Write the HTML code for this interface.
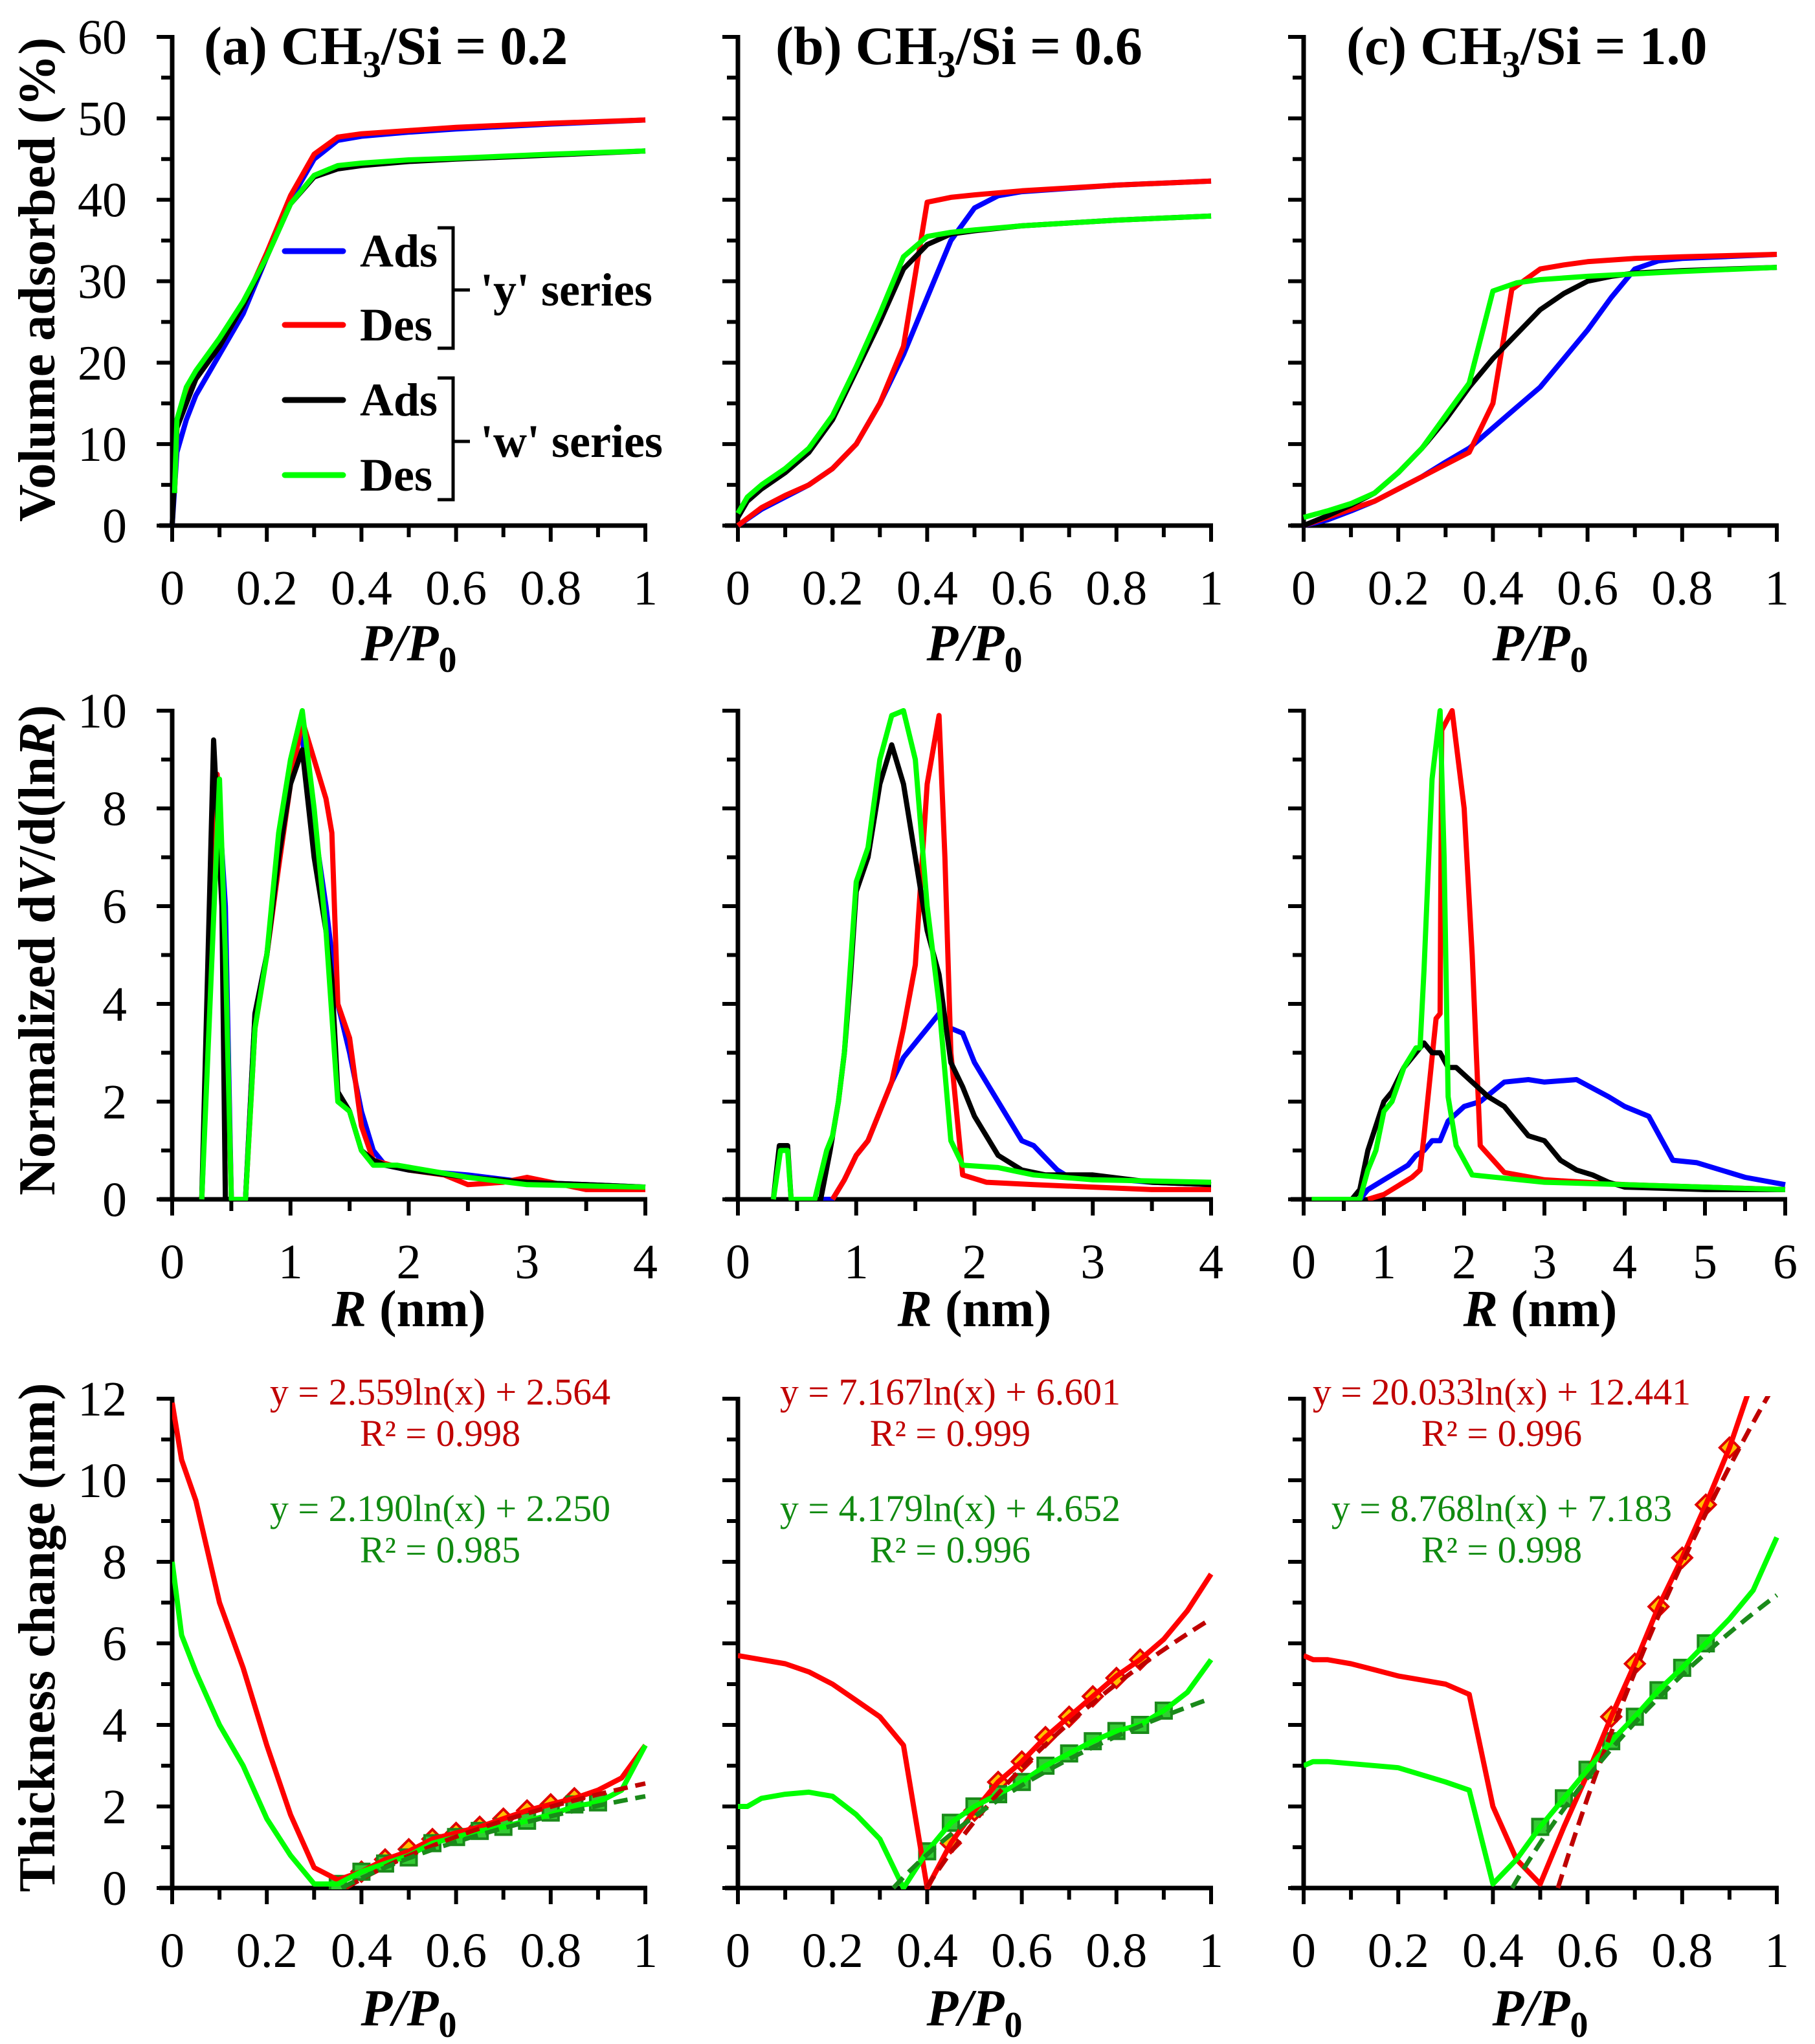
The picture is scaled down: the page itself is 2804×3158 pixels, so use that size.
<!DOCTYPE html>
<html><head><meta charset="utf-8"><style>
html,body{margin:0;padding:0;background:#fff}
svg{display:block}
svg text{font-family:"Liberation Serif","Times New Roman",serif !important}
</style></head><body>
<svg id="fig" xmlns="http://www.w3.org/2000/svg" width="2804" height="3158" viewBox="0 0 2804 3158" font-family="Liberation Serif, Times New Roman, serif"></svg>
<script>
// ---------- Row 1: isotherms (x = P/P0, y = volume %) ----------
const isoA_blueX=[0,0.01,0.03,0.05,0.1,0.15,0.2,0.25,0.3,0.35,0.4,0.5,0.6,0.8,1];
const isoA_blueY=[0,9,13,16,21,26,33,40,45,47.3,47.8,48.3,48.7,49.3,49.8];
const isoA_redX=[0.005,0.01,0.03,0.05,0.1,0.15,0.2,0.25,0.3,0.35,0.4,0.5,0.6,0.8,1];
const isoA_redY=[4,12,15.5,18,22,27,33.5,40.5,45.6,47.7,48.1,48.5,48.9,49.4,49.8];
const isoA_blackX=[0,0.01,0.03,0.05,0.1,0.15,0.2,0.25,0.3,0.35,0.4,0.5,0.6,0.8,1];
const isoA_blackY=[0,12,15,18,22,27,33,39.5,42.8,43.8,44.2,44.7,45,45.5,46];
const isoA_greenX=[0.005,0.01,0.03,0.05,0.1,0.15,0.2,0.25,0.3,0.35,0.4,0.5,0.6,0.8,1];
const isoA_greenY=[4,13,17,19,23,27.5,33,39.5,43,44.2,44.5,44.9,45.1,45.6,46];

const isoB_blueX=[0,0.05,0.1,0.15,0.2,0.25,0.3,0.35,0.4,0.45,0.5,0.55,0.6,0.8,1];
const isoB_blueY=[0,2,3.5,5,7,10,15,21,28,35,39,40.5,41,41.8,42.3];
const isoB_redX=[0,0.05,0.1,0.15,0.2,0.25,0.3,0.35,0.4,0.45,0.5,0.6,0.8,1];
const isoB_redY=[0,2.2,3.7,5,7,10,15,22,39.7,40.3,40.6,41.1,41.8,42.3];
const isoB_blackX=[0,0.02,0.05,0.1,0.15,0.2,0.25,0.3,0.35,0.4,0.45,0.5,0.6,0.8,1];
const isoB_blackY=[1,3,4.5,6.5,9,13,19,25,31.5,34.5,35.8,36.2,36.8,37.5,38];
const isoB_greenX=[0,0.02,0.05,0.1,0.15,0.2,0.25,0.3,0.35,0.4,0.45,0.5,0.6,0.8,1];
const isoB_greenY=[1.5,3.5,5,7,9.5,13.5,19.5,26,33,35.5,36,36.3,36.8,37.5,38];

const isoC_blueX=[0,0.05,0.1,0.15,0.2,0.25,0.3,0.35,0.4,0.45,0.5,0.55,0.6,0.65,0.7,0.75,0.8,1];
const isoC_blueY=[0,0.7,1.8,3,4.5,6,7.8,9.5,12,14.5,17,20.5,24,28,31.5,32.5,32.8,33.3];
const isoC_redX=[0,0.05,0.1,0.15,0.2,0.25,0.3,0.35,0.4,0.44,0.5,0.55,0.6,0.7,0.8,1];
const isoC_redY=[0,1,2,3,4.5,6,7.5,9,15,29,31.5,32,32.4,32.8,33,33.3];
const isoC_blackX=[0,0.05,0.1,0.15,0.2,0.25,0.3,0.35,0.4,0.45,0.5,0.55,0.6,0.65,0.7,0.8,1];
const isoC_blackY=[0,1.2,2.5,4,6.5,9.5,13,17,20.5,23.5,26.5,28.5,30,30.6,31,31.3,31.7];
const isoC_greenX=[0,0.05,0.1,0.15,0.2,0.25,0.3,0.35,0.4,0.45,0.5,0.6,0.8,1];
const isoC_greenY=[1,1.8,2.7,4,6.5,9.5,13.5,17.5,28.8,29.8,30.2,30.6,31.2,31.7];

// ---------- Row 2: pore size distributions ----------
const psdA_blackX=[0.25,0.35,0.42,0.45,0.62,0.7,0.8,0.9,1.0,1.1,1.2,1.3,1.35,1.4,1.5,1.6,1.7,1.8,2,2.5,3,3.5,4];
const psdA_blackY=[0,9.4,6,0,0,3.8,5,7,8.5,9.2,7,5.5,4.5,2.2,1.8,1,0.8,0.7,0.6,0.45,0.35,0.3,0.25];
const psdA_blueX=[0.25,0.38,0.45,0.5,0.62,0.7,0.8,0.9,1.0,1.08,1.15,1.3,1.4,1.5,1.6,1.7,1.8,2,2.5,3,3.5,4];
const psdA_blueY=[0,8.7,6,0,0,3.8,5,7,8.7,9.8,8.5,6,4,3,1.8,1.0,0.7,0.6,0.5,0.35,0.3,0.25];
const psdA_redX=[0.25,0.38,0.45,0.5,0.62,0.7,0.8,0.9,1.0,1.1,1.2,1.3,1.35,1.4,1.5,1.6,1.7,2,2.3,2.5,2.8,3,3.3,3.5,4];
const psdA_redY=[0,8.7,5,0,0,3.5,5,6.8,8.5,9.8,9,8.2,7.5,4,3.3,1.5,0.8,0.6,0.5,0.3,0.35,0.45,0.3,0.2,0.2];
const psdA_greenX=[0.25,0.4,0.45,0.5,0.62,0.7,0.8,0.9,1.0,1.1,1.2,1.3,1.4,1.5,1.6,1.7,1.9,2.5,3,4];
const psdA_greenY=[0,8.6,5,0,0,3.5,5,7.5,9,10,8,5.5,2,1.8,1,0.7,0.7,0.45,0.3,0.25];

const psdB_blackX=[0.3,0.35,0.42,0.45,0.7,0.78,0.85,0.9,0.95,1.0,1.1,1.2,1.3,1.4,1.5,1.6,1.7,1.8,1.9,2.0,2.2,2.4,2.6,3,3.5,4];
const psdB_blackY=[0,1.1,1.1,0,0,1,2,3,4.5,6.3,7,8.5,9.3,8.5,7,5.5,4.6,2.8,2.3,1.7,0.9,0.6,0.5,0.5,0.35,0.3];
const psdB_greenX=[0.3,0.36,0.42,0.45,0.65,0.75,0.8,0.85,0.9,1.0,1.1,1.2,1.3,1.4,1.5,1.6,1.7,1.8,1.9,2.2,2.5,3,4];
const psdB_greenY=[0,1,1,0,0,1,1.3,2,3,6.5,7.2,9,9.9,10,9,6,4,1.2,0.7,0.65,0.5,0.4,0.35];
const psdB_blueX=[0.6,0.8,0.9,1,1.1,1.2,1.3,1.4,1.5,1.6,1.7,1.8,1.9,2.0,2.2,2.4,2.5,2.7,2.8,3,3.5,4];
const psdB_blueY=[0,0,0.4,0.9,1.2,1.8,2.4,2.9,3.2,3.5,3.8,3.5,3.4,2.8,2,1.2,1.1,0.6,0.45,0.45,0.35,0.3];
const psdB_redX=[0.8,0.9,1,1.1,1.2,1.3,1.4,1.5,1.6,1.7,1.75,1.8,1.9,2.1,2.5,3,3.5,4];
const psdB_redY=[0,0.4,0.9,1.2,1.8,2.4,3.5,4.8,8.5,9.9,7,3,0.5,0.35,0.3,0.25,0.2,0.2];

const psdC_blackX=[0.1,0.6,0.7,0.8,0.9,1.0,1.1,1.25,1.4,1.5,1.6,1.7,1.8,1.9,2.1,2.3,2.5,2.6,2.8,3.0,3.2,3.4,3.6,3.8,4,5,6];
const psdC_blackY=[0,0,0.2,1,1.5,2,2.2,2.7,3.0,3.2,3.0,3.0,2.7,2.7,2.4,2.1,1.9,1.7,1.3,1.2,0.8,0.6,0.5,0.35,0.25,0.2,0.2];
const psdC_blueX=[0.7,0.8,1.0,1.1,1.3,1.4,1.5,1.6,1.7,1.8,2.0,2.2,2.5,2.8,3.0,3.4,3.8,4.0,4.3,4.6,4.9,5.5,6];
const psdC_blueY=[0,0.2,0.4,0.5,0.7,0.9,1.0,1.2,1.2,1.6,1.9,2.0,2.4,2.45,2.4,2.45,2.1,1.9,1.7,0.8,0.75,0.45,0.3];
const psdC_redX=[0.8,1.0,1.2,1.35,1.45,1.5,1.6,1.65,1.7,1.72,1.85,2.0,2.1,2.2,2.5,3,4,5,6];
const psdC_redY=[0,0.1,0.3,0.45,0.6,1.3,2.9,3.7,3.8,9.6,10,8,5,1.1,0.55,0.4,0.3,0.25,0.2];
const psdC_greenX=[0.1,0.7,0.8,0.9,1.0,1.1,1.25,1.4,1.45,1.5,1.6,1.7,1.75,1.8,1.9,2.1,3,4,6];
const psdC_greenY=[0,0,0.6,1,1.8,2.0,2.7,3.1,3.1,4.7,8.6,10,7,2.1,1.1,0.5,0.35,0.3,0.2];

// ---------- Row 3: thickness change ----------
const thkA_redX=[0,0.02,0.05,0.1,0.15,0.2,0.25,0.3,0.35,0.4,0.45,0.5,0.55,0.6,0.65,0.7,0.75,0.8,0.85,0.9,0.95,1];
const thkA_redY=[11.9,10.5,9.5,7,5.4,3.5,1.8,0.5,0.2,0.4,0.7,0.9,1.2,1.35,1.5,1.7,1.9,2.05,2.2,2.4,2.7,3.5];
const thkA_greenX=[0,0.02,0.05,0.1,0.15,0.2,0.25,0.3,0.35,0.4,0.45,0.5,0.55,0.6,0.65,0.7,0.75,0.8,0.85,0.9,0.95,1];
const thkA_greenY=[8,6.2,5.3,4,3,1.7,0.8,0.1,0.1,0.4,0.6,0.8,1.1,1.25,1.4,1.5,1.65,1.8,2,2.1,2.4,3.5];
const thkA_redMarkX=[0.4,0.45,0.5,0.55,0.6,0.65,0.7,0.75,0.8,0.85];
const thkA_redMarkY=[0.4,0.7,0.95,1.2,1.35,1.5,1.7,1.9,2.05,2.2];
const thkA_greenMarkX=[0.35,0.4,0.45,0.5,0.55,0.6,0.65,0.7,0.75,0.8,0.85,0.9];
const thkA_greenMarkY=[0.1,0.4,0.6,0.75,1.1,1.25,1.4,1.5,1.65,1.85,2.05,2.1];
const fitA_red=[2.559,2.564], fitA_green=[2.190,2.250];

const thkB_redX=[0,0.05,0.1,0.15,0.2,0.25,0.3,0.35,0.4,0.45,0.5,0.55,0.6,0.65,0.7,0.75,0.8,0.85,0.9,0.95,1];
const thkB_redY=[5.7,5.6,5.5,5.3,5,4.6,4.2,3.5,0,1.1,1.9,2.6,3.1,3.7,4.2,4.7,5.2,5.6,6.1,6.8,7.7];
const thkB_greenX=[0,0.02,0.05,0.1,0.15,0.2,0.25,0.3,0.35,0.4,0.45,0.5,0.55,0.6,0.65,0.7,0.75,0.8,0.85,0.9,0.95,1];
const thkB_greenY=[2,2,2.2,2.3,2.35,2.25,1.8,1.2,0,0.9,1.6,2,2.3,2.6,3,3.3,3.6,3.85,4.0,4.35,4.8,5.6];
const thkB_redMarkX=[0.45,0.5,0.55,0.6,0.65,0.7,0.75,0.8,0.85];
const thkB_redMarkY=[1.1,1.9,2.6,3.1,3.7,4.2,4.7,5.15,5.6];
const thkB_greenMarkX=[0.4,0.45,0.5,0.55,0.6,0.65,0.7,0.75,0.8,0.85,0.9];
const thkB_greenMarkY=[0.9,1.6,2,2.3,2.6,3,3.3,3.6,3.85,4.0,4.35];
const fitB_red=[7.167,6.601], fitB_green=[4.179,4.652];

const thkC_redX=[0,0.02,0.05,0.1,0.15,0.2,0.25,0.3,0.35,0.4,0.45,0.5,0.55,0.6,0.65,0.7,0.75,0.8,0.85,0.9,0.95];
const thkC_redY=[5.7,5.6,5.6,5.5,5.35,5.2,5.1,5.0,4.75,2,0.7,0.1,1.5,2.8,4.2,5.5,6.9,8.1,9.4,10.8,12.5];
const thkC_greenX=[0,0.02,0.05,0.1,0.2,0.3,0.35,0.4,0.45,0.5,0.55,0.6,0.65,0.7,0.75,0.8,0.85,0.9,0.95,1];
const thkC_greenY=[3.0,3.1,3.1,3.05,2.95,2.6,2.4,0.1,0.7,1.5,2.2,2.9,3.6,4.2,4.85,5.4,6.0,6.6,7.3,8.6];
const thkC_redMarkX=[0.65,0.7,0.75,0.8,0.85,0.9];
const thkC_redMarkY=[4.2,5.5,6.9,8.1,9.4,10.8];
const thkC_greenMarkX=[0.5,0.55,0.6,0.65,0.7,0.75,0.8,0.85];
const thkC_greenMarkY=[1.5,2.2,2.9,3.6,4.2,4.85,5.4,6.0];
const fitC_red=[20.033,12.441], fitC_green=[8.768,7.183];

// tick labels
const pTicks=[0,0.2,0.4,0.6,0.8,1];
const pTickLabels=["0","0.2","0.4","0.6","0.8","1"];
const volTicks=[0,10,20,30,40,50,60];
const psdTicks=[0,2,4,6,8,10];
const rTicks4=[0,1,2,3,4];
const rTicks6=[0,1,2,3,4,5,6];
const thkTicks=[0,2,4,6,8,10,12];

const NS="http://www.w3.org/2000/svg";
const svg=document.getElementById('fig');
const FF="Liberation Serif, Times New Roman, serif";
function el(tag,attrs,parent){const e=document.createElementNS(NS,tag);for(const k in attrs)e.setAttribute(k,attrs[k]);if(tag==='text')e.setAttribute('font-family',FF);(parent||svg).appendChild(e);return e;}

const COL={blue:"#0000ff",red:"#ff0000",black:"#000000",green:"#00ff00"};
const colX=[[266,997],[1140,1871],[2014,2745]];
const rowY=[[57,812],[1098,1853],[2161,2917]];

function makeAxes(x0,x1,y0,y1,xmin,xmax,ymin,ymax){
  return {sx:v=>x0+(v-xmin)/(xmax-xmin)*(x1-x0), sy:v=>y1-(v-ymin)/(ymax-ymin)*(y1-y0)};
}
function isMajor(v,arr){return arr.some(a=>Math.abs(a-v)<1e-6);}
function drawFrame(g,ax,x0,x1,y0,y1,xmin,xmax,xstep,ymin,ymax,ystep,xt,xl,yt,showY){
  for(let k=0;ymin+k*ystep<=ymax+1e-9;k++){const v=ymin+k*ystep;const y=ax.sy(v);const L=isMajor(v,yt)?24:17;
    const t=el('line',{x1:x0-L,x2:x0,y1:y,y2:y,stroke:"#000","stroke-width":6},g);}
  for(let k=0;xmin+k*xstep<=xmax+1e-9;k++){const v=xmin+k*xstep;const x=ax.sx(v);const L=isMajor(v,xt)?25:18;
    const t=el('line',{x1:x,x2:x,y1:y1,y2:y1+L,stroke:"#000","stroke-width":6},g);}
  const ya=el('line',{x1:x0,x2:x0,y1:y0-3,y2:y1+3,stroke:"#000","stroke-width":7},g);
  const xa=el('line',{x1:x0-20,x2:x1+3,y1:y1,y2:y1,stroke:"#000","stroke-width":7},g);
  xt.forEach((v,i)=>{const t=el('text',{x:ax.sx(v),y:y1+122,"text-anchor":"middle","font-size":76},g);t.textContent=xl[i];});
  if(showY) yt.forEach(v=>{const t=el('text',{x:x0-70,y:ax.sy(v)+26,"text-anchor":"end","font-size":76},g);t.textContent=String(v);});
}
function series(g,ax,xs,ys,color,name,w){
  const d=xs.map((x,i)=>(i?"L":"M")+ax.sx(x).toFixed(1)+" "+ax.sy(ys[i]).toFixed(1)).join(" ");
  const p=el('path',{d:d,fill:"none",stroke:color,"stroke-width":w||8,"stroke-linejoin":"round"},g);
  
  
}
function clip(g,id,x0,x1,y0,y1){const c=el('clipPath',{id:id},g);el('rect',{x:x0,y:y0-4,width:x1-x0+8,height:y1-y0+6},c);}

// ---- Row 1
const isoSets=[
 [isoA_blueX,isoA_blueY,isoA_redX,isoA_redY,isoA_blackX,isoA_blackY,isoA_greenX,isoA_greenY],
 [isoB_blueX,isoB_blueY,isoB_redX,isoB_redY,isoB_blackX,isoB_blackY,isoB_greenX,isoB_greenY],
 [isoC_blueX,isoC_blueY,isoC_redX,isoC_redY,isoC_blackX,isoC_blackY,isoC_greenX,isoC_greenY]];
const titles=["(a) CH","(b) CH","(c) CH"], titleVals=["0.2","0.6","1.0"], titleX=[315,1198,2080];
for(let c=0;c<3;c++){
  const [x0,x1]=colX[c],[y0,y1]=rowY[0];
  const g=el('g',{});
  const ax=makeAxes(x0,x1,y0,y1,0,1,0,60);
  drawFrame(g,ax,x0,x1,y0,y1,0,1,0.1,0,60,5,pTicks,pTickLabels,volTicks,c==0);
  const s=isoSets[c];
  series(g,ax,s[0],s[1],COL.blue,'ads-y-line');series(g,ax,s[2],s[3],COL.red,'des-y-line');
  series(g,ax,s[4],s[5],COL.black,'ads-w-line');series(g,ax,s[6],s[7],COL.green,'des-w-line');
  const t=el('text',{x:titleX[c],y:99,"font-size":84,"font-weight":"bold"},g);
  
  t.innerHTML=titles[c]+'<tspan dy="20" font-size="58">3</tspan><tspan dy="-20">/Si = '+titleVals[c]+'</tspan>';
  const xl=el('text',{x:(x0+x1)/2,y:y1+208,"text-anchor":"middle","font-size":80,"font-weight":"bold","font-style":"italic"},g);
  
  xl.innerHTML='P/P<tspan dy="18" font-size="56" font-style="normal">0</tspan>';
}
// legend
(function(){
  const g=el('g',{});
  const items=[["Ads",COL.blue,388],["Des",COL.red,502],["Ads",COL.black,618],["Des",COL.green,734]];
  items.forEach(it=>{
    const l=el('line',{x1:440,x2:530,y1:it[2],y2:it[2],stroke:it[1],"stroke-width":9,"stroke-linecap":"round"},g);
    
    const t=el('text',{x:556,y:it[2]+24,"font-size":72,"font-weight":"bold"},g);t.textContent=it[0];
    
  });
  [[352,538,"'y' series",448],[584,772,"'w' series",682]].forEach(b=>{
    const p=el('path',{d:`M676 ${b[0]} H700 V${b[1]} H676 M700 ${b[3]} H726`,fill:"none",stroke:"#000","stroke-width":5},g);
    
    const t=el('text',{x:742,y:b[3]+24,"font-size":72,"font-weight":"bold"},g);t.textContent=b[2];
    
  });
})();

// ---- Row 2
const psdSets=[
 [psdA_blueX,psdA_blueY,psdA_redX,psdA_redY,psdA_blackX,psdA_blackY,psdA_greenX,psdA_greenY],
 [psdB_blueX,psdB_blueY,psdB_redX,psdB_redY,psdB_blackX,psdB_blackY,psdB_greenX,psdB_greenY],
 [psdC_blueX,psdC_blueY,psdC_redX,psdC_redY,psdC_blackX,psdC_blackY,psdC_greenX,psdC_greenY]];
for(let c=0;c<3;c++){
  const x0=colX[c][0],x1=c==2?2758:colX[c][1],[y0,y1]=rowY[1];
  const xmax=c==2?6:4;
  const g=el('g',{});
  const ax=makeAxes(x0,x1,y0,y1,0,xmax,0,10);
  drawFrame(g,ax,x0,x1,y0,y1,0,xmax,0.5,0,10,1,c==2?rTicks6:rTicks4,(c==2?rTicks6:rTicks4).map(String),psdTicks,c==0);
  clip(g,'cp2'+c,x0,x1,y0,y1);
  const gg=el('g',{"clip-path":`url(#cp2${c})`},g);
  const s=psdSets[c];
  series(gg,ax,s[0],s[1],COL.blue,'ads-y-line');series(gg,ax,s[2],s[3],COL.red,'des-y-line');
  series(gg,ax,s[4],s[5],COL.black,'ads-w-line');series(gg,ax,s[6],s[7],COL.green,'des-w-line');
  const xl=el('text',{x:(x0+colX[c][1])/2,y:y1+196,"text-anchor":"middle","font-size":80,"font-weight":"bold"},g);
  
  xl.innerHTML='<tspan font-style="italic">R</tspan> (nm)';
}

// ---- Row 3
const thkSets=[
 [thkA_redX,thkA_redY,thkA_greenX,thkA_greenY,thkA_redMarkX,thkA_redMarkY,thkA_greenMarkX,thkA_greenMarkY,fitA_red,fitA_green],
 [thkB_redX,thkB_redY,thkB_greenX,thkB_greenY,thkB_redMarkX,thkB_redMarkY,thkB_greenMarkX,thkB_greenMarkY,fitB_red,fitB_green],
 [thkC_redX,thkC_redY,thkC_greenX,thkC_greenY,thkC_redMarkX,thkC_redMarkY,thkC_greenMarkX,thkC_greenMarkY,fitC_red,fitC_green]];
const eqCenter=[680,1468,2320];
const r2Red=["0.998","0.999","0.996"], r2Green=["0.985","0.996","0.998"];
for(let c=0;c<3;c++){
  const [x0,x1]=colX[c],[y0,y1]=rowY[2];
  const g=el('g',{});
  const ax=makeAxes(x0,x1,y0,y1,0,1,0,12);
  drawFrame(g,ax,x0,x1,y0,y1,0,1,0.1,0,12,1,pTicks,pTickLabels,thkTicks,c==0);
  clip(g,'cp3'+c,x0,x1,y0,y1);
  const gg=el('g',{"clip-path":`url(#cp3${c})`},g);
  const s=thkSets[c];
  s[4].forEach((x,i)=>{const cx=ax.sx(x),cy=ax.sy(s[5][i]);
    const m=el('path',{d:`M${cx} ${cy-15} L${cx+15} ${cy} L${cx} ${cy+15} L${cx-15} ${cy} Z`,fill:"#ffc000",stroke:"#e00000","stroke-width":4},gg);
    });
  s[6].forEach((x,i)=>{const cx=ax.sx(x),cy=ax.sy(s[7][i]);
    const m=el('rect',{x:cx-12,y:cy-12,width:24,height:24,fill:"#33cc33",stroke:"#1a8a1a","stroke-width":4},gg);
    });
  series(gg,ax,s[0],s[1],COL.red,'des-y-line');
  series(gg,ax,s[2],s[3],COL.green,'des-w-line');
  [[s[8],"#c00000",'fit-y-line'],[s[9],"#1a8a1a",'fit-w-line']].forEach(f=>{
    const [a,b]=f[0];const start=Math.exp(-b/a);const xs=[],ys=[];
    for(let k=0;k<=60;k++){const x=start+(1-start)*k/60;xs.push(x);ys.push(a*Math.log(x)+b);}
    const d=xs.map((x,i)=>(i?"L":"M")+ax.sx(x).toFixed(1)+" "+ax.sy(ys[i]).toFixed(1)).join(" ");
    const p=el('path',{d:d,fill:"none",stroke:f[1],"stroke-width":7,"stroke-dasharray":"22 12"},gg);
    
  });
  const eqs=[[`y = ${s[8][0].toFixed(3)}ln(x) + ${s[8][1].toFixed(3)}`,2170,"#c00000",'fit-y-equation'],[`R² = ${r2Red[c]}`,2234,"#c00000",'fit-y-r2'],
             [`y = ${s[9][0].toFixed(3)}ln(x) + ${s[9][1].toFixed(3)}`,2350,"#108a10",'fit-w-equation'],[`R² = ${r2Green[c]}`,2414,"#108a10",'fit-w-r2']];
  eqs.forEach(e=>{const t=el('text',{x:eqCenter[c],y:e[1],"text-anchor":"middle","font-size":58,fill:e[2]},g);t.textContent=e[0];
    });
  const xl=el('text',{x:(x0+x1)/2,y:y1+212,"text-anchor":"middle","font-size":80,"font-weight":"bold","font-style":"italic"},g);
  
  xl.innerHTML='P/P<tspan dy="18" font-size="56" font-style="normal">0</tspan>';
}

// y-axis titles
[["Volume adsorbed (%)",432],["",1468],["Thickness change (nm)",2530]].forEach((a,i)=>{
  const t=el('text',{x:0,y:0,"text-anchor":"middle","font-size":80,"font-weight":"bold",transform:`translate(84 ${a[1]}) rotate(-90)`});
  
  if(i==1) t.innerHTML='Normalized d<tspan font-style="italic">V</tspan>/d(ln<tspan font-style="italic">R</tspan>)';
  else t.textContent=a[0];
});
</script>
</body></html>
